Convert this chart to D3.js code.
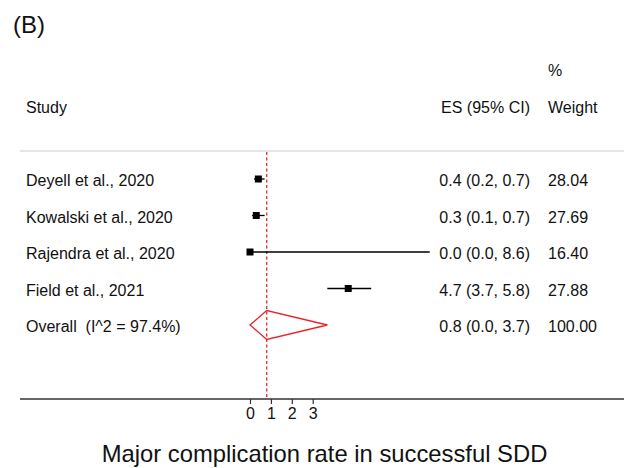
<!DOCTYPE html>
<html><head><meta charset="utf-8">
<script src="https://cdn.jsdelivr.net/npm/d3@7"></script>
<style>body{margin:0;background:#fff}text{font-family:"Liberation Sans",Arial,sans-serif;fill:#111}</style>
</head><body>
<script>
const studies = ["Deyell et al., 2020","Kowalski et al., 2020","Rajendra et al., 2020","Field et al., 2021"];
const es = [0.4, 0.3, 0.0, 4.7];
const lo = [0.2, 0.1, 0.0, 3.7];
const hi = [0.7, 0.7, 8.6, 5.8];
const weights = ["28.04","27.69","16.40","27.88"];
const overall = {label:"Overall  (I^2 = 97.4%)", es:0.8, lo:0.0, hi:3.7, weight:"100.00"};
const ticks = [0,1,2,3];

const W=624,H=468;
const FS="16px";
const svg=d3.select("body").append("svg").attr("width",W).attr("height",H);
const x=d3.scaleLinear().domain([0,1]).range([250,270.9]);
const rows=[...studies, overall.label];
const y=d3.scalePoint().domain(rows).range([179,325]);
const axisY=399;

svg.append("text").attr("x",13).attr("y",33).style("font-size","24px").text("(B)");
svg.append("text").attr("x",548).attr("y",76).style("font-size",FS).text("%");
svg.append("text").attr("x",26).attr("y",113).style("font-size",FS).text("Study");
svg.append("text").attr("x",530).attr("y",113).attr("text-anchor","end").style("font-size",FS).text("ES (95% CI)");
svg.append("text").attr("x",548).attr("y",113).style("font-size",FS).text("Weight");

svg.append("line").attr("x1",20).attr("x2",624).attr("y1",151).attr("y2",151).attr("stroke","#ccc").attr("stroke-width",1);

svg.append("line").attr("x1",x(overall.es)).attr("x2",x(overall.es)).attr("y1",152).attr("y2",axisY)
  .attr("stroke","#e8262a").attr("stroke-width",1.3).attr("stroke-dasharray","3,2.5");

const fmt=d3.format(".1f");
studies.forEach((s,i)=>{
  const yy=y(s);
  svg.append("text").attr("x",26).attr("y",yy+7).style("font-size",FS).text(s);
  svg.append("line").attr("x1",x(lo[i])).attr("x2",x(hi[i])).attr("y1",yy).attr("y2",yy).attr("stroke","#000").attr("stroke-width",1.3);
  svg.append("rect").attr("x",x(es[i])-3.5).attr("y",yy-3.5).attr("width",7).attr("height",7).attr("fill","#000");
  svg.append("text").attr("x",530).attr("y",yy+7).attr("text-anchor","end").style("font-size",FS)
    .text(`${fmt(es[i])} (${fmt(lo[i])}, ${fmt(hi[i])})`);
  svg.append("text").attr("x",548).attr("y",yy+7).style("font-size",FS).text(weights[i]);
});

const yo=y(overall.label);
svg.append("text").attr("x",26).attr("y",yo+7).style("font-size",FS).style("white-space","pre").attr("xml:space","preserve").text(overall.label);
svg.append("polygon").attr("points",[[x(overall.lo),yo],[x(overall.es),yo-14.5],[x(overall.hi),yo],[x(overall.es),yo+14.5]].map(p=>p.join(",")).join(" "))
  .attr("fill","none").attr("stroke","#e8262a").attr("stroke-width",1.3);
svg.append("text").attr("x",530).attr("y",yo+7).attr("text-anchor","end").style("font-size",FS)
  .text(`${fmt(overall.es)} (${fmt(overall.lo)}, ${fmt(overall.hi)})`);
svg.append("text").attr("x",548).attr("y",yo+7).style("font-size",FS).text(overall.weight);

svg.append("line").attr("x1",20).attr("x2",624).attr("y1",axisY).attr("y2",axisY).attr("stroke","#333").attr("stroke-width",1.3);
const ax=svg.append("g").attr("transform",`translate(0,${axisY})`)
  .call(d3.axisBottom(x).tickValues(ticks).tickSize(5).tickPadding(4).tickFormat(d3.format("d")));
ax.select(".domain").remove();
ax.selectAll("line").attr("stroke","#333").attr("stroke-width",1.2);
ax.selectAll("text").style("font-size",FS).attr("fill","#111").style("font-family","Liberation Sans, Arial, sans-serif");

svg.append("text").attr("x",324.5).attr("y",462).attr("text-anchor","middle").style("font-size","23.8px").text("Major complication rate in successful SDD");
</script>
</body></html>
